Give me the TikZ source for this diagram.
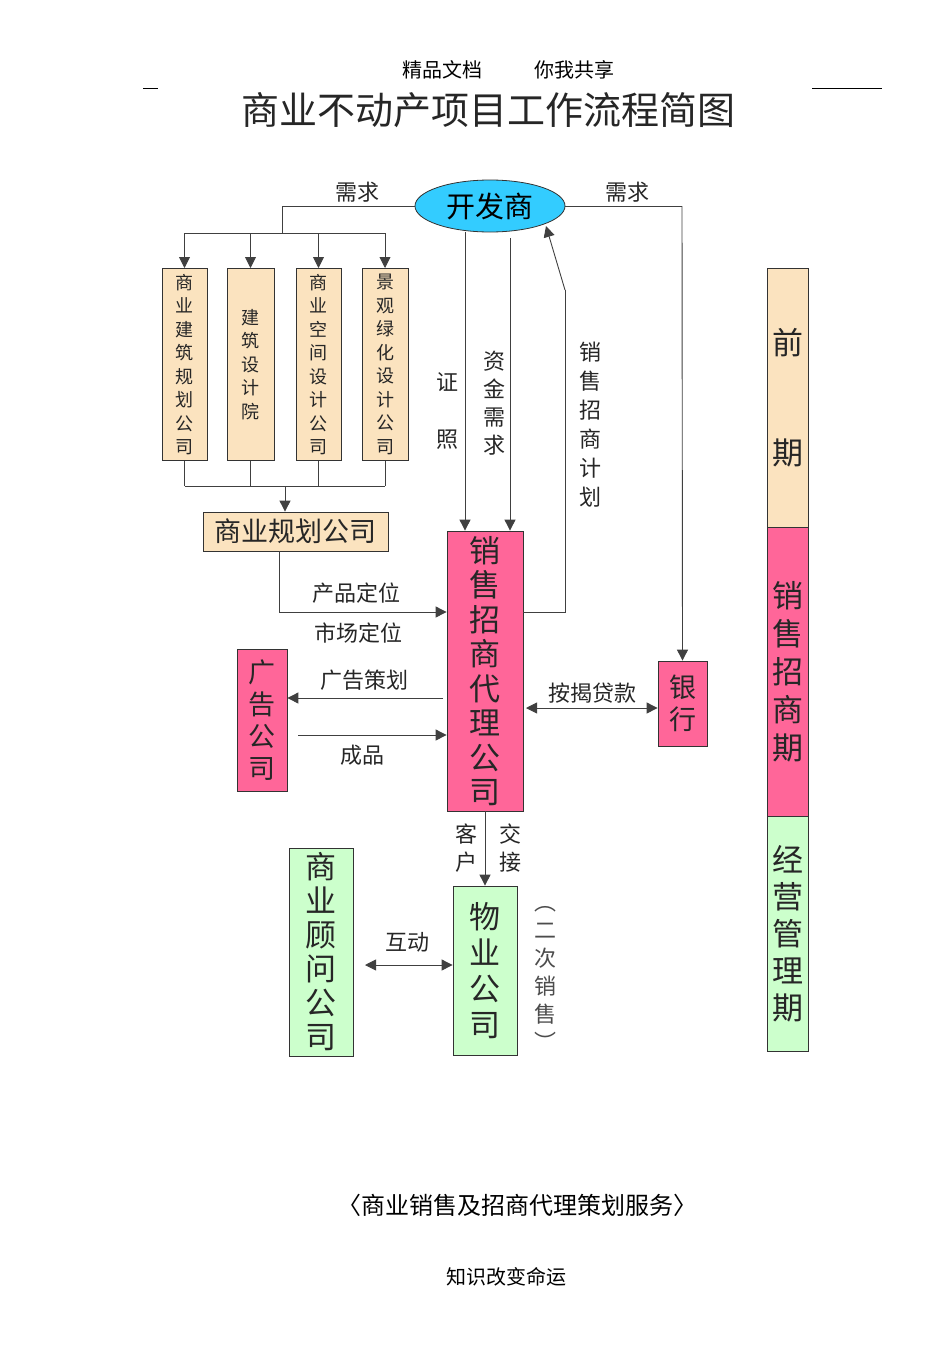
\documentclass[tikz,border=0pt]{standalone}
\usepackage{fontspec}
\setmainfont{Noto Sans CJK SC}
\usetikzlibrary{shapes.geometric,arrows.meta}
\definecolor{wheat}{HTML}{FBE3BF}
\definecolor{pinkc}{HTML}{FF6699}
\definecolor{greenc}{HTML}{CCFFCC}
\definecolor{cyanc}{HTML}{33CCFF}
\begin{document}
\begin{tikzpicture}[x=1pt,y=-1pt,
  box/.style={draw=black!80,line width=0.8pt,minimum width=#1,inner sep=0pt,align=center},
  ln/.style={draw=black!75,line width=0.9pt},
  ar/.style={ln,-{Triangle[length=11pt,width=11pt]}},
  dar/.style={ln,{Triangle[length=11pt,width=11pt]}-{Triangle[length=11pt,width=11pt]}},
  lab/.style={font=\fontsize{22}{25}\selectfont,text=black!85,align=center,inner sep=0pt},
  sm/.style={font=\fontsize{18}{23.5}\selectfont,text=black!85}]
\useasboundingbox (0,0) rectangle (950,1346);
% header
\node[font=\fontsize{20}{22}\selectfont] (hd) at (508,70) {精品文档\hspace{2.6em}你我共享};
\draw[line width=0.8pt] (143,88) -- (158,88);
\coordinate (r1) at (812,88); \coordinate (r2) at (882,88);
\draw[line width=0.8pt] (r1) -- (r2);
\node[font=\fontsize{38}{40}\selectfont,text=black!85] (title) at (488,110) {商业不动产项目工作流程简图};
% developer
\node[ellipse,draw=black!80,line width=0.8pt,fill=cyanc,minimum width=150,minimum height=52,font=\fontsize{29}{30}\selectfont] (dev) at (490,206) {开发商};
\node[lab] (x1) at (357,192) {需求};
\node[lab] (x2) at (627,192) {需求};
% four boxes
\node[box=45,fill=wheat,minimum height=192,sm,anchor=north] (b1) at (184.5,268) {商\\业\\建\\筑\\规\\划\\公\\司};
\node[box=47,fill=wheat,minimum height=192,sm,anchor=north] (b2) at (250.5,268) {建\\筑\\设\\计\\院};
\node[box=45,fill=wheat,minimum height=192,sm,anchor=north] (b3) at (318.5,268) {商\\业\\空\\间\\设\\计\\公\\司};
\node[box=46,fill=wheat,minimum height=192,sm,anchor=north] (b4) at (385,268) {景\\观\\绿\\化\\设\\计\\公\\司};
\coordinate (t0) at (282,233);
\draw[ln] (dev.west) -| (t0);
\draw[ln] (b1.north |- t0) -- (b4.north |- t0);
\foreach \b in {b1,b2,b3,b4} \draw[ar] (\b.north |- t0) -- (\b.north);
% planning company
\node[box=185,fill=wheat,minimum height=39,font=\fontsize{27}{28}\selectfont,text=black!85] (plan) at (295.5,531.5) {商业规划公司};
\coordinate (t1) at (285,486);
\foreach \b in {b1,b2,b3,b4} \draw[ln] (\b.south) -- (\b.south |- t1);
\draw[ln] (b1.south |- t1) -- (b4.south |- t1);
\draw[ar] (t1) -- (t1 |- plan.north);
% sales agency
\node[box=76,fill=pinkc,minimum height=280,font=\fontsize{31}{34.5}\selectfont,text=black!85] (sales) at (485,671) {销\\售\\招\\商\\代\\理\\公\\司};
\coordinate (s1) at (465,232); \coordinate (s2) at (510,238);
\draw[ar] (s1) -- (s1 |- sales.north);
\draw[ar] (s2) -- (s2 |- sales.north);
\node[lab] (zz) at (447,411) {证\\[32pt]照};
\node[lab,font=\fontsize{22}{28}\selectfont] (zj) at (494,403) {资\\金\\需\\求};
\coordinate (p1) at (565,612); \coordinate (p2) at (565,290); \coordinate (p3) at (546,226);
\draw[ln] (sales.east |- p1) -- (p1) -- (p2);
\draw[ar] (p2) -- (p3);
\node[lab,font=\fontsize{22}{29}\selectfont] (xs) at (590,425) {销\\售\\招\\商\\计\\划};
% bank
\node[box=49,fill=pinkc,minimum height=85,font=\fontsize{27}{32}\selectfont,text=black!85] (bank) at (682.5,703.5) {银\\行};
\coordinate (q1) at (682,206);
\draw[ln] (dev.east) -- (q1);
\draw[ar] (q1) -- (bank.north);
\coordinate (m1) at (526,708);
\draw[dar] (m1) -- (bank.west |- m1);
\node[lab] (aj) at (592,693) {按揭贷款};
% planning -> sales
\coordinate (c1) at (279,612);
\draw[ar] (plan.south -| c1) -- (c1) -- (sales.west |- c1);
\node[lab] (cp) at (356,593) {产品定位};
\node[lab] (sc) at (358,633) {市场定位};
% ad company
\node[box=50,fill=pinkc,minimum height=142,font=\fontsize{27}{32}\selectfont,text=black!85] (ad) at (262,720) {广\\告\\公\\司};
\coordinate (a1) at (443,698); \coordinate (a2) at (298,735);
\draw[ar] (a1) -- (ad.east |- a1);
\draw[ar] (a2) -- (sales.west |- a2);
\node[lab] (gg) at (364,680) {广告策划};
\node[lab] (cpn) at (362,755) {成品};
% property company
\node[box=64,fill=greenc,minimum height=169,font=\fontsize{31}{36}\selectfont,text=black!85] (prop) at (485,970.5) {物\\业\\公\\司};
\draw[ar] (sales.south) -- (prop.north);
\node[lab,font=\fontsize{22}{28}\selectfont] (kh) at (466,848) {客\\户};
\node[lab,font=\fontsize{22}{28}\selectfont] (jj) at (510,848) {交\\接};
\node[box=64,fill=greenc,minimum height=208,font=\fontsize{31}{34}\selectfont,text=black!85] (cons) at (321,952) {商\\业\\顾\\问\\公\\司};
\coordinate (h1) at (365,965);
\draw[dar] (h1) -- (prop.west |- h1);
\node[lab] (hd2) at (407,942) {互动};
\node[lab,text=black!70,font=\fontsize{22}{28}\selectfont] (ec) at (545,978) {︵\\二\\次\\销\\售\\︶};
% phase bar
\node[box=41,fill=wheat,minimum height=259,anchor=north,font=\fontsize{31}{35}\selectfont,text=black!85] (ph1) at (787.5,268) {前\\[75pt]期};
\node[box=41,fill=pinkc,minimum height=289,anchor=north,font=\fontsize{31}{38}\selectfont,text=black!85] (ph2) at (787.5,527) {销\\售\\招\\商\\期};
\node[box=41,fill=greenc,minimum height=235,anchor=north,font=\fontsize{31}{37}\selectfont,text=black!85] (ph3) at (787.5,816) {经\\营\\管\\理\\期};
% footer
\node[font=\fontsize{24}{26}\selectfont] (ft) at (517,1205) {〈商业销售及招商代理策划服务〉};
\node[font=\fontsize{20}{22}\selectfont] (ft2) at (506,1277) {知识改变命运};
\end{tikzpicture}
\end{document}
